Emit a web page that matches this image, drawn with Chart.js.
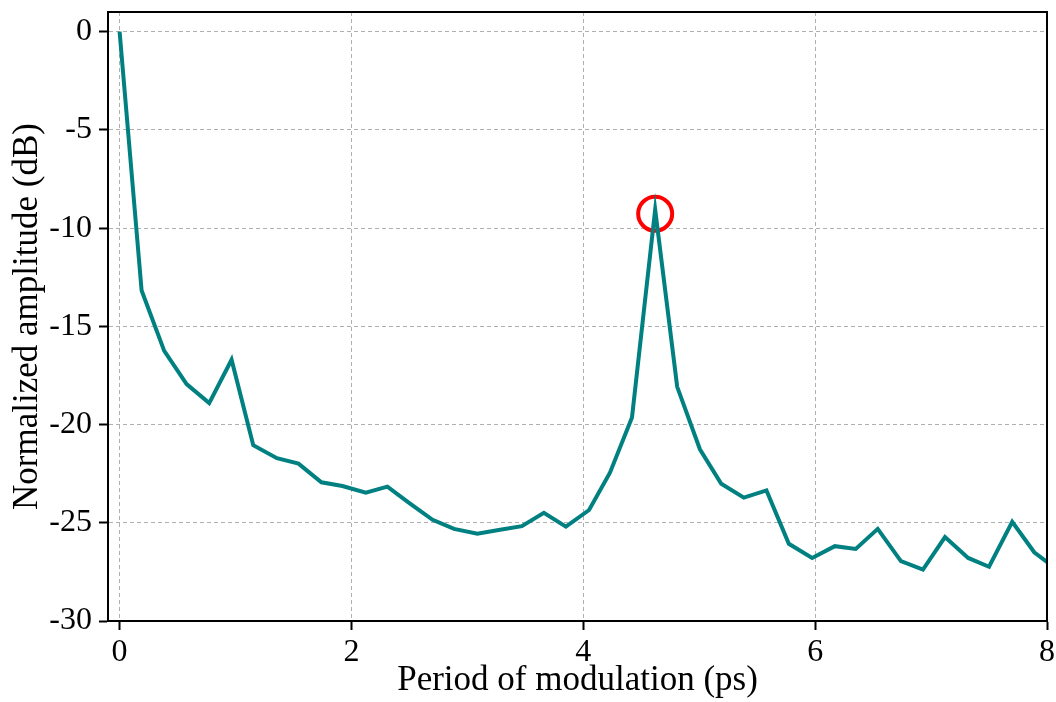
<!DOCTYPE html>
<html>
<head>
<meta charset="utf-8">
<script src="https://cdn.jsdelivr.net/npm/chart.js@4"></script>
<style>
  html, body { margin: 0; padding: 0; background: #ffffff; }
  #wrap { width: 1056px; height: 702px; }
</style>
</head>
<body>
<div id="wrap"><canvas id="c" width="1056" height="702"></canvas></div>
<script>
// Period of modulation (ps)
const periods = [0, 0.19, 0.385, 0.578, 0.773, 0.966, 1.153, 1.357, 1.543, 1.741, 1.922,
  2.124, 2.31, 2.50, 2.70, 2.885, 3.086, 3.27, 3.47, 3.66, 3.85, 4.05, 4.23, 4.42, 4.62,
  4.81, 5.006, 5.19, 5.385, 5.58, 5.773, 5.974, 6.17, 6.35, 6.54, 6.74, 6.93, 7.12, 7.32,
  7.50, 7.70, 7.89, 8.08];
// Normalized amplitude (dB)
const amplitudes = [0, -13.18, -16.25, -17.94, -18.91, -16.70, -21.05, -21.71, -21.99, -22.94, -23.13,
  -23.47, -23.16, -24.0, -24.85, -25.31, -25.56, -25.37, -25.17, -24.49, -25.2, -24.35, -22.45, -19.64, -9.06,
  -18.08, -21.26, -23.01, -23.72, -23.35, -26.07, -26.79, -26.19, -26.33, -25.31, -26.95, -27.38, -25.73, -26.79,
  -27.24, -24.95, -26.5, -27.35];
// highlighted peak
const peakX = [4.62];
const peakY = [-9.27];

const xTicks = [0, 2, 4, 6, 8];
const yTicks = [0, -5, -10, -15, -20, -25, -30];

const FONT = "'Liberation Serif', 'Times New Roman', serif";

const frame = {
  id: 'frame',
  afterDatasetsDraw(chart) {
    const {ctx, chartArea: a} = chart;
    ctx.save();
    ctx.strokeStyle = '#000';
    ctx.lineWidth = 2;
    ctx.setLineDash([]);
    ctx.strokeRect(a.left, a.top, a.right - a.left, a.bottom - a.top);
    ctx.restore();
  }
};

function noPad(s) {
  s.paddingTop = 0; s.paddingBottom = 0; s.paddingLeft = 0; s.paddingRight = 0;
}

new Chart(document.getElementById('c'), {
  type: 'scatter',
  data: {
    datasets: [
      {
        data: periods.map((x, i) => ({x, y: amplitudes[i]})),
        showLine: true,
        borderColor: '#008080',
        borderWidth: 4,
        pointRadius: 0,
        pointHoverRadius: 0,
        tension: 0,
        clip: 0
      },
      {
        data: peakX.map((x, i) => ({x, y: peakY[i]})),
        showLine: false,
        pointStyle: 'circle',
        pointRadius: 17,
        pointBorderWidth: 4,
        pointBorderColor: '#ff0000',
        pointBackgroundColor: 'rgba(0,0,0,0)',
        clip: false
      }
    ]
  },
  options: {
    responsive: false,
    animation: false,
    events: [],
    layout: { autoPadding: false, padding: { left: 0, right: 9, top: 12, bottom: 0 } },
    plugins: { legend: { display: false }, tooltip: { enabled: false } },
    scales: {
      x: {
        type: 'linear',
        min: -0.1,
        max: 8,
        afterBuildTicks: s => { s.ticks = xTicks.map(v => ({value: v})); },
        afterFit: s => { s.height = 81; noPad(s); },
        grid: {
          color: '#b0b0b0', lineWidth: 1,
          tickColor: '#000', tickWidth: 2, tickLength: 9, tickBorderDash: []
        },
        border: { display: true, color: '#000', width: 2, dash: [4, 3] },
        ticks: { color: '#000', font: { family: FONT, size: 32 }, padding: 3, maxRotation: 0,
                 callback: v => String(v) },
        title: { display: true, text: 'Period of modulation (ps)', color: '#000',
                 font: { family: FONT, size: 35 }, padding: { top: 0, bottom: 0 } }
      },
      y: {
        type: 'linear',
        min: -30,
        max: 1,
        afterBuildTicks: s => { s.ticks = yTicks.map(v => ({value: v})); },
        afterFit: s => { s.width = 108; noPad(s); },
        grid: {
          color: '#b0b0b0', lineWidth: 1,
          tickColor: '#000', tickWidth: 2, tickLength: 9, tickBorderDash: []
        },
        border: { display: true, color: '#000', width: 2, dash: [4, 3] },
        ticks: { color: '#000', font: { family: FONT, size: 32 }, padding: 7,
                 callback: v => String(v) },
        title: { display: true, text: 'Normalized amplitude (dB)', color: '#000',
                 font: { family: FONT, size: 35 }, padding: { top: 7, bottom: 0 } }
      }
    }
  },
  plugins: [frame]
});
</script>
</body>
</html>
